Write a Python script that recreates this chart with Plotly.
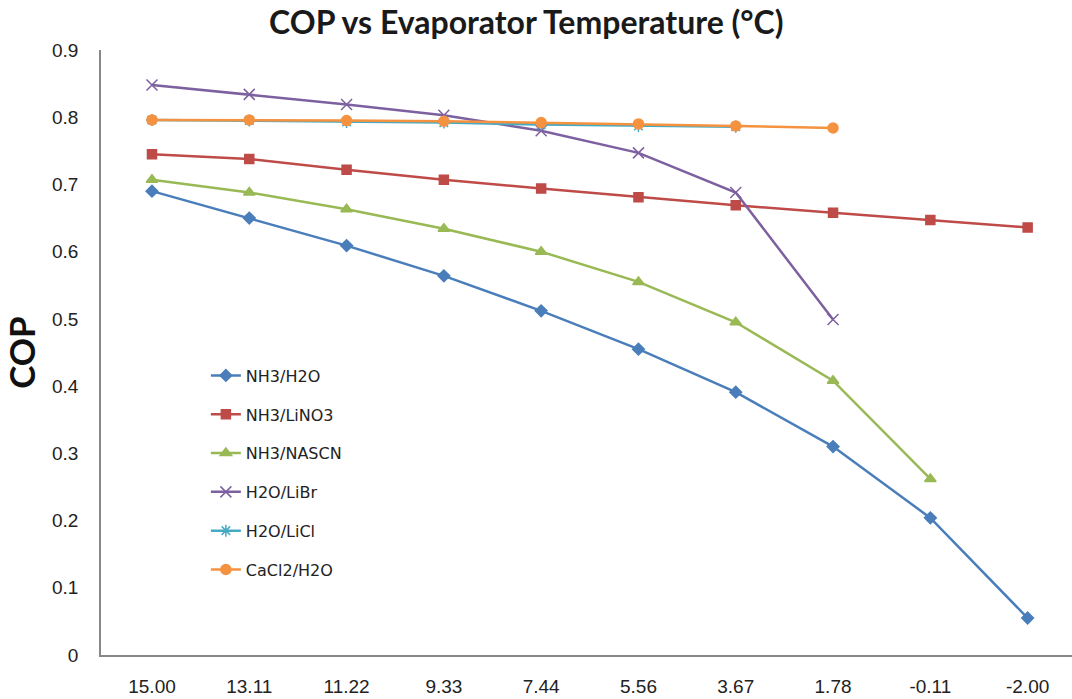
import plotly.graph_objects as go

temps = ["15.00", "13.11", "11.22", "9.33", "7.44", "5.56", "3.67", "1.78", "-0.11", "-2.00"]

nh3_h2o = [0.690, 0.650, 0.609, 0.564, 0.512, 0.455, 0.391, 0.310, 0.204, 0.055]
nh3_lino3 = [0.745, 0.738, 0.722, 0.707, 0.694, 0.681, 0.669, 0.658, 0.647, 0.636]
nh3_nascn = [0.707, 0.688, 0.663, 0.634, 0.600, 0.555, 0.495, 0.408, 0.262]
h2o_libr = [0.848, 0.834, 0.819, 0.803, 0.780, 0.747, 0.688, 0.499]
h2o_licl = [0.796, 0.795, 0.793, 0.792, 0.789, 0.787, 0.786]
cacl2_h2o = [0.796, 0.796, 0.795, 0.794, 0.792, 0.790, 0.787, 0.784]

series = [
    ("NH3/H2O", nh3_h2o, "#4A7EBB", "diamond", 9),
    ("NH3/LiNO3", nh3_lino3, "#BE4B48", "square", 9),
    ("NH3/NASCN", nh3_nascn, "#98B954", "triangle-up", 10),
    ("H2O/LiBr", h2o_libr, "#7D60A0", "x-thin-open", 11),
    ("H2O/LiCl", h2o_licl, "#46AAC5", "asterisk-open", 10),
    ("CaCl2/H2O", cacl2_h2o, "#F59240", "circle", 10),
]

fig = go.Figure()
for i, (name, vals, color, sym, size) in enumerate(series):
    fig.add_trace(go.Scatter(
        x=temps[:len(vals)], y=vals, name=name, mode="lines+markers",
        line=dict(color=color, width=2.5),
        marker=dict(symbol=sym, size=size, color=color,
                    line=dict(color=color, width=1.5)),
        legendgroup=name,
    ))

fig.update_layout(
    width=1072, height=699,
    margin=dict(l=101, r=0, t=50, b=44),
    paper_bgcolor="white", plot_bgcolor="white",
    title=dict(text="<b>COP vs Evaporator Temperature (°C)</b>",
               x=0.491, xanchor="center", y=0.967, yanchor="middle",
               font=dict(family="Lato, Open Sans, sans-serif", size=32, color="#1a1a1a")),
    showlegend=True,
    legend=dict(x=0.108, y=0.49, xanchor="left", yanchor="top",
                bgcolor="rgba(0,0,0,0)", traceorder="grouped", tracegroupgap=15,
                font=dict(family="DejaVu Sans, Verdana, sans-serif", size=16, color="#222")),
    font=dict(family="Liberation Sans, Arial, sans-serif", color="#222"),
)
fig.update_xaxes(type="category", categoryorder="array", categoryarray=temps,
                 range=[-0.524, 9.456], showgrid=False, showline=True,
                 linecolor="#888888", linewidth=1.5, ticks="outside", ticklen=13,
                 tickcolor="rgba(0,0,0,0)", tickfont=dict(size=19), zeroline=False)
fig.update_yaxes(range=[0, 0.9], tickvals=[0, 0.1, 0.2, 0.3, 0.4, 0.5, 0.6, 0.7, 0.8, 0.9],
                 ticktext=["0", "0.1", "0.2", "0.3", "0.4", "0.5", "0.6", "0.7", "0.8", "0.9"],
                 showgrid=False, showline=True, linecolor="#888888", linewidth=1.5,
                 ticks="outside", ticklen=17, tickcolor="rgba(0,0,0,0)",
                 tickfont=dict(size=19), zeroline=False,
                 title=dict(text="<b>COP</b>", standoff=16,
                            font=dict(family="Lato, Open Sans, sans-serif", size=35, color="#111")))

fig.write_html("out.html")
